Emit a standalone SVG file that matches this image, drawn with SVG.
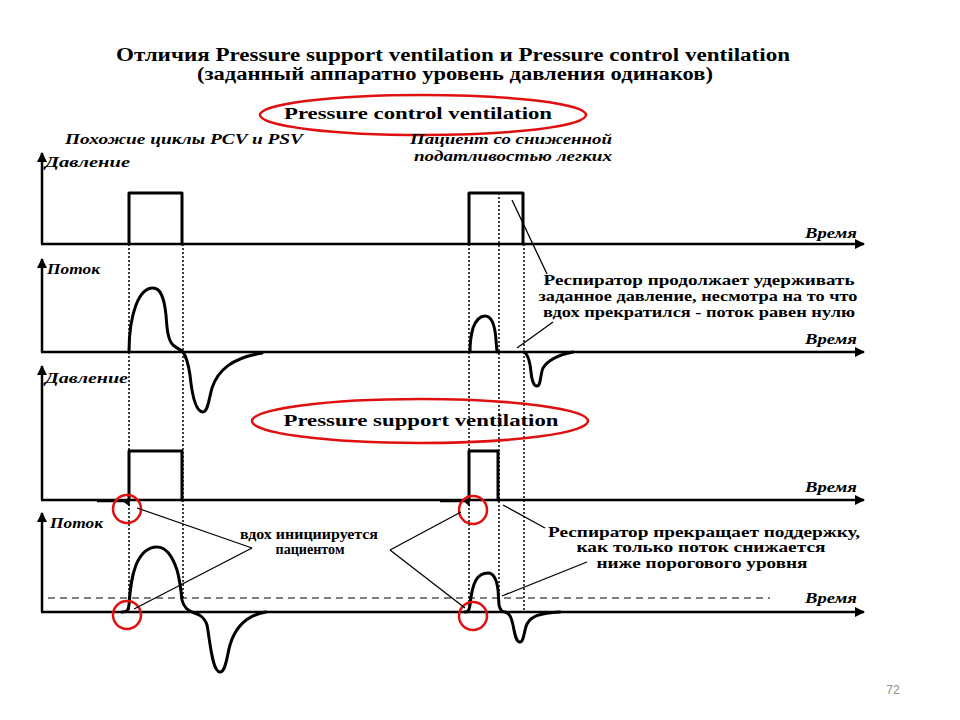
<svg xmlns="http://www.w3.org/2000/svg" width="960" height="720" viewBox="0 0 960 720">
<style>
.t{font-family:"Liberation Serif","Times New Roman",serif;font-weight:bold;fill:#000}
.ti{font-family:"Liberation Serif","Times New Roman",serif;font-weight:bold;font-style:italic;fill:#000}
.ax{stroke:#000;stroke-width:2.5;fill:none}
.sig{stroke:#000;stroke-width:3;fill:none;stroke-linejoin:round;stroke-linecap:round}
.dot{stroke:#000;stroke-width:1.5;stroke-dasharray:2 2;fill:none}
.con{stroke:#000;stroke-width:1.3;fill:none}
.red{stroke:#e01010;stroke-width:2.5;fill:none}
</style>
<defs>
<marker id="ah" viewBox="0 0 10 10" refX="9" refY="5" markerWidth="4" markerHeight="4" orient="auto" markerUnits="strokeWidth">
<path d="M0,0 L10,5 L0,10 z" fill="#000"/>
</marker>
</defs>
<rect width="960" height="720" fill="#fff"/>

<g id="title">
<text class="t" x="453" y="61" font-size="18" text-anchor="middle" textLength="674" lengthAdjust="spacingAndGlyphs">Отличия Pressure support ventilation и Pressure control ventilation</text>
<text class="t" x="455" y="80" font-size="18" text-anchor="middle" textLength="516" lengthAdjust="spacingAndGlyphs">(заданный аппаратно уровень давления одинаков)</text>
</g>

<g id="pcv-label">
<ellipse class="red" cx="423" cy="115" rx="163" ry="20"/>
<text class="t" x="418" y="119" font-size="16" text-anchor="middle" textLength="268" lengthAdjust="spacingAndGlyphs">Pressure control ventilation</text>
</g>

<g id="subtitles">
<text class="ti" x="65" y="144" font-size="15" textLength="238" lengthAdjust="spacingAndGlyphs">Похожие циклы PCV и PSV</text>
<text class="ti" x="612" y="144" font-size="15" text-anchor="end" textLength="202" lengthAdjust="spacingAndGlyphs">Пациент со сниженной</text>
<text class="ti" x="612" y="161" font-size="15" text-anchor="end" textLength="198" lengthAdjust="spacingAndGlyphs">податливостью легких</text>
</g>

<g id="dotted-guides">
<line class="dot" x1="129" y1="244" x2="129" y2="612"/>
<line class="dot" x1="183" y1="244" x2="183" y2="600"/>
<line class="dot" x1="469" y1="244" x2="469" y2="612"/>
<line class="dot" x1="499" y1="193" x2="499" y2="600"/>
<line class="dot" x1="524" y1="244" x2="524" y2="612"/>
</g>

<g id="panel-pcv-pressure">
<line class="ax" x1="42" y1="244" x2="42" y2="153" marker-end="url(#ah)"/>
<line class="ax" x1="41" y1="244" x2="864" y2="244" marker-end="url(#ah)"/>
<text class="ti" x="45" y="167" font-size="15" textLength="85" lengthAdjust="spacingAndGlyphs">Давление</text>
<text class="ti" x="857" y="238" font-size="14" text-anchor="end" textLength="52" lengthAdjust="spacingAndGlyphs">Время</text>
<path class="sig" d="M129,244 L129,193 L182,193 L182,244"/>
<path class="sig" d="M469,244 L469,193 L523,193 L523,244"/>
</g>

<g id="panel-pcv-flow">
<line class="ax" x1="42" y1="352" x2="42" y2="259" marker-end="url(#ah)"/>
<line class="ax" x1="41" y1="352" x2="864" y2="352" marker-end="url(#ah)"/>
<text class="ti" x="47" y="274" font-size="15" textLength="53" lengthAdjust="spacingAndGlyphs">Поток</text>
<text class="ti" x="857" y="344" font-size="14" text-anchor="end" textLength="52" lengthAdjust="spacingAndGlyphs">Время</text>
<path class="sig" d="M129,352 C129,330 131,318 136,305 C141,292 147,288 153,288 C160,288 164,296 166,315 C167,330 168,340 173,345 C178,349 181,350 183,352 C186,356 188,362 190,375 C192,395 196,412 203,412 C208,412 209,398 212,388 C218,370 232,358 262,353"/>
<path class="sig" d="M470,352 C470,340 471,335 473,328 C476,320 480,316 485,316 C492,316 495,325 496,340 L497,352"/>
<path class="sig" d="M524,352 C528,354 530,362 531,372 C532,382 534,386 537,386 C541,386 540,375 543,368 C548,360 558,355 573,352"/>
</g>

<g id="pcv-note">
<text class="t" x="699" y="285" font-size="14" text-anchor="middle" textLength="311" lengthAdjust="spacingAndGlyphs">Респиратор продолжает удерживать</text>
<text class="t" x="698" y="301" font-size="14" text-anchor="middle" textLength="319" lengthAdjust="spacingAndGlyphs">заданное давление, несмотра на то что</text>
<text class="t" x="699" y="317" font-size="14" text-anchor="middle" textLength="312" lengthAdjust="spacingAndGlyphs">вдох прекратился - поток равен нулю</text>
</g>

<g id="psv-label">
<ellipse class="red" cx="420" cy="421" rx="168" ry="22"/>
<text class="t" x="421" y="426" font-size="17" text-anchor="middle" textLength="275" lengthAdjust="spacingAndGlyphs">Pressure support ventilation</text>
</g>

<g id="panel-psv-pressure">
<line class="ax" x1="42" y1="500" x2="42" y2="366" marker-end="url(#ah)"/>
<line class="ax" x1="41" y1="500" x2="864" y2="500" marker-end="url(#ah)"/>
<text class="ti" x="45" y="383" font-size="15" textLength="83" lengthAdjust="spacingAndGlyphs">Давление</text>
<text class="ti" x="857" y="492" font-size="14" text-anchor="end" textLength="52" lengthAdjust="spacingAndGlyphs">Время</text>
<path d="M97,501.5 L124,501.5 L129,505 L129,500 z" fill="#000" stroke="#000" stroke-width="1.5"/>
<path d="M440,501.5 L465,501.5 L469,505 L469,500 z" fill="#000" stroke="#000" stroke-width="1.5"/>
<path class="sig" d="M129,500 L129,451 L182,451 L182,500"/>
<path class="sig" d="M469,500 L469,451 L498,451 L498,500"/>
</g>

<g id="panel-psv-flow">
<line class="ax" x1="42" y1="612" x2="42" y2="513" marker-end="url(#ah)"/>
<line class="ax" x1="41" y1="612" x2="864" y2="612" marker-end="url(#ah)"/>
<line x1="48" y1="598" x2="770" y2="598" stroke="#000" stroke-width="1" stroke-dasharray="7 5"/>
<text class="ti" x="50" y="528" font-size="15" textLength="53" lengthAdjust="spacingAndGlyphs">Поток</text>
<text class="ti" x="857" y="603" font-size="14" text-anchor="end" textLength="52" lengthAdjust="spacingAndGlyphs">Время</text>
<path class="sig" d="M122,612 C127,612 128,611 129,605 C130,590 131,578 136,565 C141,553 148,547 157,547 C166,547 172,555 177,570 C180,580 181,590 182,600 C184,608 188,610 192,612 C198,614 204,616 207,625 C210,640 212,672 220,672 C226,672 227,655 230,645 C236,625 248,615 266,612"/>
<path class="sig" d="M465,612 C468,612 469,611 470,605 C471,595 472,587 476,580 C479,575 483,573 488,573 C494,573 497,582 498,590 L499,605 C500,610 502,612 505,612 C509,613 511,616 513,625 C515,635 516,642 520,642 C524,642 524,630 527,624 C531,616 540,613 560,612"/>
</g>

<g id="trigger-markers">
<circle class="red" cx="127" cy="509" r="14"/>
<circle class="red" cx="127" cy="615" r="14"/>
<circle class="red" cx="473" cy="510" r="14"/>
<circle class="red" cx="473" cy="616" r="14"/>
</g>

<g id="psv-notes">
<text class="t" x="309" y="539" font-size="14" text-anchor="middle" textLength="138" lengthAdjust="spacingAndGlyphs">вдох инициируется</text>
<text class="t" x="310" y="554" font-size="14" text-anchor="middle" textLength="69" lengthAdjust="spacingAndGlyphs">пациентом</text>
<text class="t" x="704" y="537" font-size="14" text-anchor="middle" textLength="312" lengthAdjust="spacingAndGlyphs">Респиратор прекращает поддержку,</text>
<text class="t" x="701" y="552" font-size="14" text-anchor="middle" textLength="249" lengthAdjust="spacingAndGlyphs">как только поток снижается</text>
<text class="t" x="702" y="568" font-size="14" text-anchor="middle" textLength="211" lengthAdjust="spacingAndGlyphs">ниже порогового уровня</text>
</g>

<g id="connectors">
<line class="con" x1="512" y1="200" x2="547" y2="274"/>
<line class="con" x1="553" y1="322" x2="517" y2="348"/>
<line class="con" x1="137" y1="508" x2="252" y2="548"/>
<line class="con" x1="134" y1="609" x2="252" y2="548"/>
<line class="con" x1="390" y1="550" x2="461" y2="512"/>
<line class="con" x1="390" y1="550" x2="465" y2="608"/>
<line class="con" x1="503" y1="505" x2="545" y2="528"/>
<line class="con" x1="587" y1="562" x2="502" y2="596"/>
</g>

<text x="893" y="694" font-family="Liberation Sans, Arial, sans-serif" font-size="12" fill="#8c8c8c" text-anchor="middle">72</text>
</svg>
